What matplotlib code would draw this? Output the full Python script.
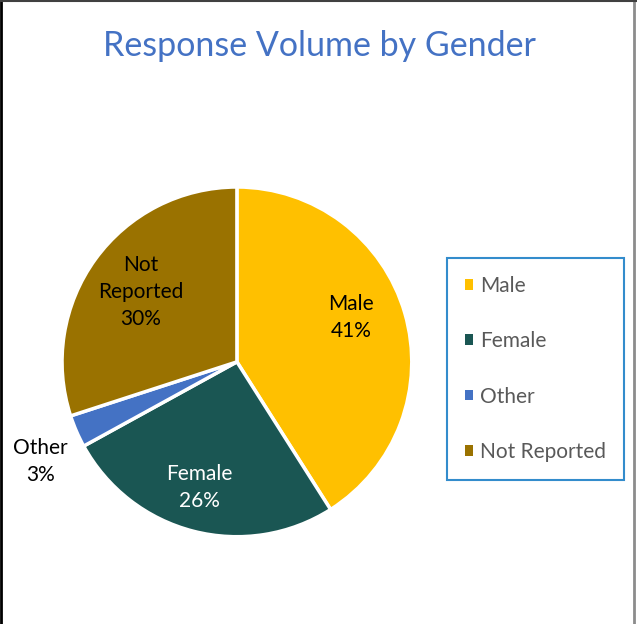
import matplotlib.pyplot as plt
import numpy as np

labels = ["Male", "Female", "Other", "Not Reported"]
values = [41, 26, 3, 30]
slice_labels = ["Male\n41%", "Female\n26%", "Other\n3%", "Not\nReported\n30%"]
colors = ["#FFC000", "#1A5653", "#4472C4", "#9A7200"]
label_text_colors = ["black", "white", "black", "black"]
# radial distance of each label (fraction of radius) and angle tweak
label_dist = [0.70, 0.75, 1.26, 0.68]
label_shift = [5, -2.4, 3.5, 0]

plt.rcParams['font.family'] = ['Lato', 'DejaVu Sans']

fig = plt.figure(figsize=(6.37, 6.24), dpi=100)

# chart frame
fig.add_artist(plt.Line2D([0.002, 0.002], [0, 1], color="black", lw=2))
fig.add_artist(plt.Line2D([0.995, 0.995], [0, 1], color="#8c8c8c", lw=2))
fig.add_artist(plt.Line2D([0, 1], [0.998, 0.998], color="#404040", lw=1.5))

fig.text(0.501, 0.927, "Response Volume by Gender", ha="center", va="center",
         fontsize=24.5, color="#4472C4")

ax = fig.add_axes([0.0974, 0.1396, 0.549, 0.561])
wedges, _ = ax.pie(values, colors=colors, startangle=90, counterclock=False,
                   wedgeprops=dict(edgecolor="white", linewidth=2.5))
ax.set_aspect("equal")
ax.set_xlim(-1, 1)
ax.set_ylim(-1, 1)

for w, txt, d, sh, tc in zip(wedges, slice_labels, label_dist, label_shift, label_text_colors):
    mid = np.deg2rad((w.theta1 + w.theta2) / 2 + sh)
    ax.text(d * np.cos(mid), d * np.sin(mid), txt, ha="center", va="center",
            fontsize=15, color=tc, linespacing=1.45, clip_on=False)

leg = fig.legend(wedges, labels, loc="upper left",
                 bbox_to_anchor=(0.7017, 0.5865), frameon=True, fancybox=False,
                 handlelength=0.4, handleheight=0.4, handletextpad=0.35,
                 labelspacing=1.7, borderpad=0.85, fontsize=15,
                 labelcolor="#595959", borderaxespad=0)
leg.get_frame().set_edgecolor("#0070C0")
leg.get_frame().set_linewidth(1.5)
for h in leg.legend_handles:
    h.set_edgecolor("none")

fig.savefig("out.png", dpi=100)
